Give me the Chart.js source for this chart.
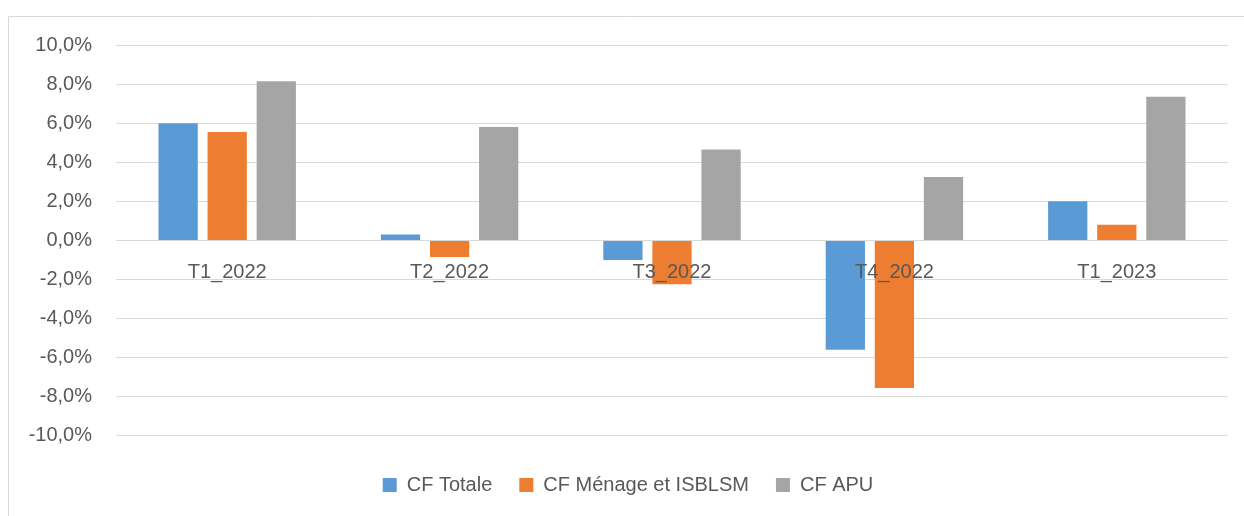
<!DOCTYPE html>
<html>
<head>
<meta charset="utf-8">
<script src="https://cdn.jsdelivr.net/npm/chart.js@4"></script>
<style>
  html, body { margin: 0; padding: 0; background: #fff; }
  #wrap { width: 1244px; height: 516px; }
</style>
</head>
<body>
<div id="wrap"><canvas id="chart" width="1244" height="516"></canvas></div>
<script>
const categories = ['T1_2022', 'T2_2022', 'T3_2022', 'T4_2022', 'T1_2023'];
const cfTotale = [6.0, 0.3, -1.0, -5.6, 2.0];
const cfMenage = [5.55, -0.85, -2.25, -7.55, 0.8];
const cfApu = [8.15, 5.8, 4.65, 3.25, 7.35];

const FONT = "'Liberation Sans', Arial, sans-serif";
const TEXT = '#595959';
const GRID = '#d9d9d9';

// outer frame of the chart object (only top and left edges are visible)
const frame = {
  id: 'frame',
  beforeDraw(chart) {
    const ctx = chart.ctx;
    ctx.save();
    ctx.fillStyle = '#fff';
    ctx.fillRect(0, 0, chart.width, chart.height);
    ctx.strokeStyle = GRID;
    ctx.lineWidth = 1;
    ctx.beginPath();
    ctx.moveTo(8.5, chart.height);
    ctx.lineTo(8.5, 16.5);
    ctx.lineTo(chart.width, 16.5);
    ctx.stroke();
    ctx.restore();
  }
};

const ds = (label, data, color) => ({
  label,
  data,
  backgroundColor: color,
  borderWidth: 0,
  categoryPercentage: 0.662,
  barPercentage: 0.8
});

new Chart(document.getElementById('chart'), {
  type: 'bar',
  data: {
    labels: categories,
    datasets: [
      ds('CF Totale', cfTotale, '#5b9bd5'),
      ds('CF Ménage et ISBLSM', cfMenage, '#ed7d31'),
      ds('CF APU', cfApu, '#a5a5a5')
    ]
  },
  options: {
    responsive: false,
    animation: false,
    layout: { padding: { top: 45, right: 16, bottom: 11, left: 28 } },
    font: { family: FONT, size: 20 },
    scales: {
      x: {
        position: { y: 0 },
        grid: { display: false, drawTicks: false },
        border: { display: false },
        // category labels sit on top of the bars
        ticks: { z: 1, color: TEXT, font: { family: FONT, size: 20 }, padding: 20, maxRotation: 0 }
      },
      y: {
        min: -10,
        max: 10,
        grid: { color: GRID, lineWidth: 1, drawTicks: false },
        border: { display: false },
        ticks: {
          stepSize: 2,
          color: TEXT,
          padding: 24,
          font: { family: FONT, size: 20 },
          callback: v => v.toFixed(1).replace('.', ',') + '%'
        },
        afterFit(scale) { scale.width = 88; }
      }
    },
    plugins: {
      legend: {
        position: 'bottom',
        title: { display: true, text: '', padding: { top: 11, bottom: 0 }, font: { size: 1 } },
        labels: {
          color: TEXT,
          font: { family: FONT, size: 20 },
          boxWidth: 14,
          boxHeight: 14,
          padding: 27
        }
      },
      tooltip: { enabled: false }
    }
  },
  plugins: [frame]
});
</script>
</body>
</html>
